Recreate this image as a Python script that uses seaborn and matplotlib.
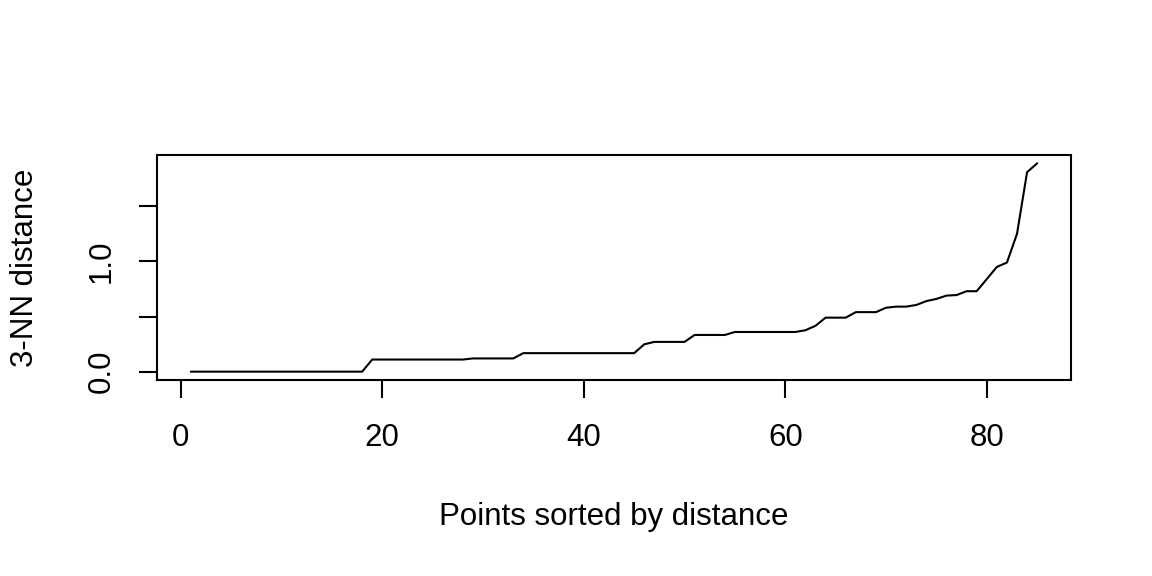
import numpy as np
import pandas as pd
import matplotlib
matplotlib.use("Agg")
import matplotlib.pyplot as plt
import seaborn as sns

# 3-NN distances, sorted
knn_dist = ([0.0] * 18 + [0.11] * 10 + [0.12] * 5 + [0.168] * 12 + [0.248] +
            [0.27] * 4 + [0.333] * 4 + [0.36] * 7 + [0.376, 0.416] +
            [0.49] * 3 + [0.54] * 3 + [0.58, 0.59, 0.59, 0.605, 0.64, 0.66,
            0.69, 0.695, 0.73, 0.73, 0.84, 0.95, 0.99, 1.25, 1.81, 1.89])
point_idx = list(range(1, len(knn_dist) + 1))
x_ticks = [0, 20, 40, 60, 80]
y_ticks = [0.0, 0.5, 1.0, 1.5]
y_ticklabels = ["0.0", "", "1.0", ""]

dane = pd.DataFrame({"idx": point_idx, "dist": knn_dist})

sns.set_style("white")
plt.rcParams['font.family'] = ['Liberation Sans', 'DejaVu Sans']

fig = plt.figure(figsize=(11.52, 5.76), dpi=100)
ax = fig.add_axes([157/1152, 1 - 380/576, (1071-157)/1152, (380-155)/576])

sns.lineplot(data=dane, x="idx", y="dist", color='black', linewidth=1.5, ax=ax)

# R-style 4% padding
xr = max(point_idx) - min(point_idx)
yr = max(knn_dist) - min(knn_dist)
ax.set_xlim(min(point_idx) - 0.04*xr, max(point_idx) + 0.04*xr)
ax.set_ylim(min(knn_dist) - 0.04*yr, max(knn_dist) + 0.04*yr)

ax.set_xticks(x_ticks)
ax.set_xticklabels([str(t) for t in x_ticks])
ax.set_yticks(y_ticks)
ax.set_yticklabels(y_ticklabels, rotation=90, va='center')
ax.tick_params(axis='both', which='major', bottom=True, left=True,
               direction='out', length=13, width=1.5,
               labelsize=22.5, color='black', labelcolor='black')
ax.tick_params(axis='x', pad=18)
ax.tick_params(axis='y', pad=16)

for s in ax.spines.values():
    s.set_visible(True)
    s.set_color('black')
    s.set_linewidth(1.5)

ax.set_xlabel("Points sorted by distance", fontsize=22.5, color='black')
ax.set_ylabel("3-NN distance", fontsize=22.5, color='black')
ax.xaxis.label.set_va('center')
ax.yaxis.label.set_va('center')
ax.xaxis.set_label_coords(0.5, -(517 - 380) / 225)
ax.yaxis.set_label_coords((25 - 157) / 914, 0.5)

fig.savefig("out.png", dpi=100, facecolor='white')
